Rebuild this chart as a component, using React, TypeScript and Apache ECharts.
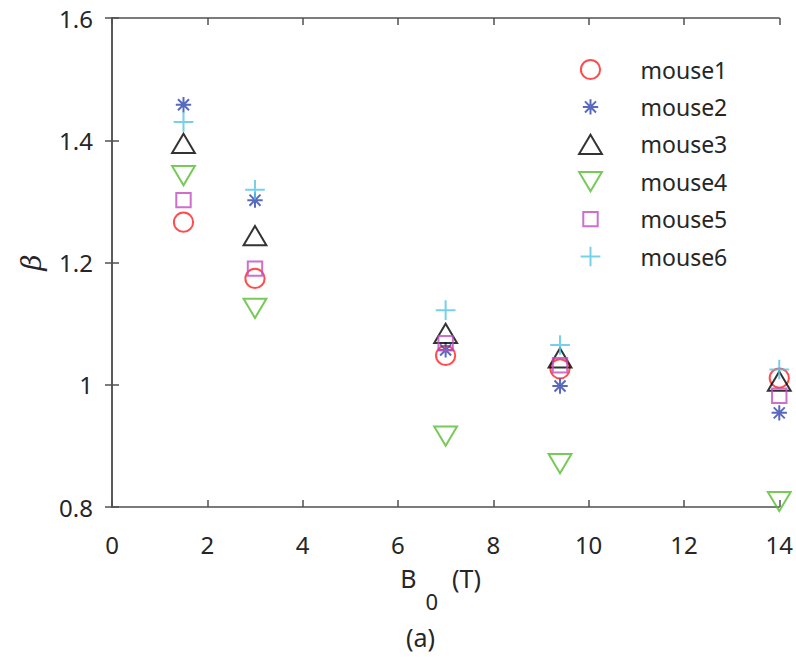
import React, { useEffect, useRef } from "react";
import * as echarts from "echarts";

const fieldValues = [1.5, 3, 7, 9.4, 14];
const mouseNames = ["mouse1", "mouse2", "mouse3", "mouse4", "mouse5", "mouse6"];
const mouse1 = [1.266, 1.174, 1.048, 1.026, 1.011];
const mouse2 = [1.458, 1.302, 1.057, 0.998, 0.954];
const mouse3 = [1.395, 1.244, 1.084, 1.044, 1.006];
const mouse4 = [1.342, 1.125, 0.916, 0.871, 0.809];
const mouse5 = [1.302, 1.19, 1.068, 1.032, 0.982];
const mouse6 = [1.43, 1.319, 1.122, 1.065, 1.025];
const seriesValues = [mouse1, mouse2, mouse3, mouse4, mouse5, mouse6];
const xTicks = [0, 2, 4, 6, 8, 10, 12, 14];
const yTicks = [0.8, 1.0, 1.2, 1.4, 1.6];

const colors = ["#ff2020", "#3045ad", "#000000", "#55bb2e", "#bf4cbf", "#52c4e4"];
const PAD = "M-1,-1 M1,1 ";
const symbols = [
  "path://" + PAD + "M-0.8,0 A0.8,0.8 0 1 1 0.8,0 A0.8,0.8 0 1 1 -0.8,0 Z",
  "path://" + PAD + "M0,-0.64 L0,0.64 M-0.64,0 L0.64,0 M-0.46,-0.46 L0.46,0.46 M-0.46,0.46 L0.46,-0.46",
  "path://" + PAD + "M0,-0.8 L0.95,0.8 L-0.95,0.8 Z",
  "path://" + PAD + "M-0.95,-0.8 L0.95,-0.8 L0,0.8 Z",
  "path://" + PAD + "M-0.6,-0.6 L0.6,-0.6 L0.6,0.6 L-0.6,0.6 Z",
  "path://" + PAD + "M0,-0.82 L0,0.82 M-0.82,0 L0.82,0",
];

const FONT = "Noto Sans";
const TXT = "#262626";
const AX = "#505050";

export default function App() {
  const ref = useRef<HTMLDivElement>(null);
  useEffect(() => {
    if (!ref.current) return;
    const chart = echarts.init(ref.current, undefined, { renderer: "svg" });
    const axisLine = { show: true, lineStyle: { color: AX, width: 1.5 } };
    const axisTick = { show: true, inside: true, length: 7, lineStyle: { color: AX, width: 1.5 } };
    chart.setOption({
      animation: false,
      textStyle: { fontFamily: FONT },
      grid: { left: 112, top: 18, right: 12, bottom: 153, containLabel: false },
      legend: {
        orient: "vertical",
        left: 576,
        top: 55,
        padding: 0,
        itemWidth: 24,
        itemHeight: 24,
        itemGap: 8.4,
        selectedMode: false,
        data: mouseNames,
        textStyle: { fontFamily: FONT, fontSize: 23, color: TXT, lineHeight: 24, padding: [0, 0, 0, 33] },
      },
      xAxis: [
        {
          type: "value",
          min: 0,
          max: 14,
          interval: 2,
          axisLine,
          axisTick,
          splitLine: { show: false },
          axisLabel: { fontFamily: FONT, fontSize: 24, color: TXT, margin: 25, customValues: xTicks },
          name: "{b|B}{s|0}{b|(T)}",
          nameLocation: "middle",
          nameGap: 58,
          nameTextStyle: {
            padding: [0, 10, 0, 0],
            rich: {
              b: { fontFamily: FONT, fontSize: 25, color: TXT, verticalAlign: "top", lineHeight: 47 },
              s: {
                fontFamily: FONT,
                fontSize: 22,
                color: TXT,
                verticalAlign: "bottom",
                lineHeight: 47,
                padding: [0, 14, 0, 9],
              },
            },
          },
        },
        {
          type: "value",
          position: "top",
          min: 0,
          max: 14,
          interval: 2,
          axisLine,
          axisTick,
          axisLabel: { show: false },
          splitLine: { show: false },
        },
      ],
      yAxis: [
        {
          type: "value",
          min: 0.8,
          max: 1.6,
          interval: 0.2,
          axisLine,
          axisTick,
          splitLine: { show: false },
          axisLabel: {
            fontFamily: FONT,
            fontSize: 24,
            color: TXT,
            margin: 19,
            customValues: yTicks,
            formatter: (v: number) => String(Math.round(v * 10) / 10),
          },
          name: "β",
          nameLocation: "middle",
          nameRotate: 90,
          nameGap: 67,
          nameTextStyle: { fontFamily: "DejaVu Serif", fontStyle: "italic", fontSize: 28, color: TXT },
        },
        {
          type: "value",
          position: "right",
          min: 0.8,
          max: 1.6,
          interval: 0.2,
          axisLine,
          axisTick,
          axisLabel: { show: false },
          splitLine: { show: false },
        },
      ],
      graphic: [
        {
          type: "text",
          left: 406,
          top: 624,
          style: { text: "(a)", fontFamily: FONT, fontSize: 25, fill: TXT },
        },
      ],
      series: mouseNames.map((name, i) => ({
        name,
        type: "scatter",
        xAxisIndex: 0,
        yAxisIndex: 0,
        symbol: symbols[i],
        symbolSize: 24,
        symbolKeepAspect: true,
        itemStyle: { color: "none", borderColor: colors[i], borderWidth: 2 },
        emphasis: { disabled: true },
        data: fieldValues.map((x, j) => [x, seriesValues[i][j]]),
      })),
    });
    return () => chart.dispose();
  }, []);
  return (
    <div
      ref={ref}
      style={{ position: "absolute", left: 0, top: 0, width: 796, height: 660 }}
    />
  );
}
